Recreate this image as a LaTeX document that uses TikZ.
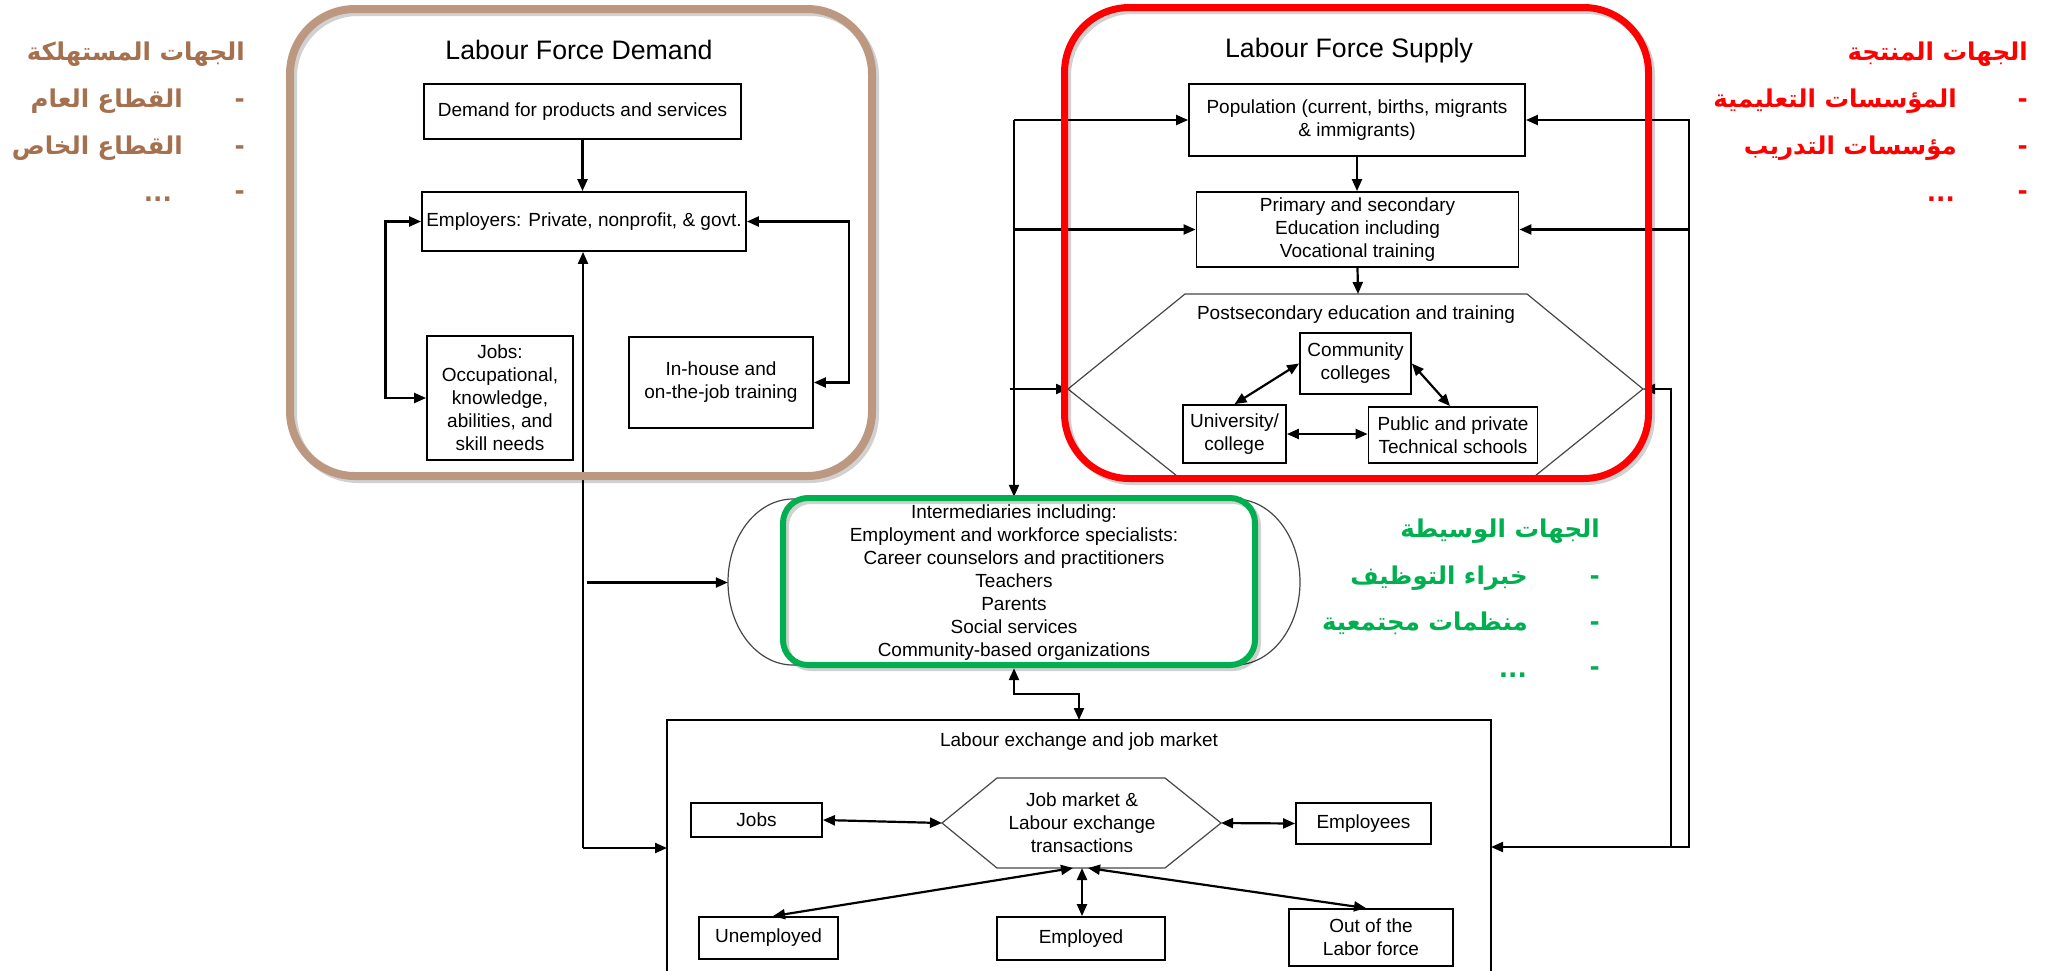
\documentclass[tikz,border=0pt]{standalone}
\usepackage{fontspec}
\setmainfont{Liberation Sans}
\newfontfamily\arabicfont[Script=Arabic]{DejaVu Sans}
\TeXXeTstate=1
\usetikzlibrary{arrows.meta,calc}
\definecolor{brownF}{RGB}{188,152,128}
\definecolor{brownT}{RGB}{165,112,78}
\definecolor{redF}{RGB}{255,0,0}
\definecolor{greenF}{RGB}{0,176,80}
\definecolor{thinC}{RGB}{70,70,70}
\begin{document}
\begin{tikzpicture}[x=1pt,y=-1pt,
  >={Triangle[length=12pt,width=10pt]},
  body/.style={font=\fontsize{19}{23}\selectfont},
  bx/.style={draw, line width=1.8pt, inner sep=0pt, align=center, body},
  sz/.style 2 args={minimum width=#1pt, minimum height=#2pt},
  conn/.style={line width=2.2pt},
  thinline/.style={draw=thinC, line width=1.2pt},
  ttl/.style={font=\fontsize{26.7}{30}\selectfont},
  ar/.style={font=\fontsize{24.5}{30}\selectfont\arabicfont\bfseries, inner sep=0pt, anchor=base east},
  shadowline/.style={draw=black, opacity=0.18},
]
\useasboundingbox (0,0) rectangle (2049,970);

% ---------- Demand side ----------
\node[ttl] (tDemand) at (579,50) {Labour Force Demand};
\node[bx, sz={317}{55}] (demand) at (582.5,111.5) {Demand for products and services};
\node[bx, sz={324}{59}] (employers) at (584,221.5) {Employers: Private, nonprofit, \& govt.};
\node[bx, sz={146}{124}] (jobsD) at (500,398) {Jobs:\\Occupational,\\knowledge,\\abilities, and\\skill needs};
\node[bx, sz={184}{91}] (inhouse) at (721,382.5) {In-house and\\on-the-job training};

\draw[conn,->] (demand.south) -- (demand.south |- employers.north);
\draw[conn,<->] (employers.west) -- ++(-35.6,0) |- (jobsD.west);
\draw[conn,<->] (employers.east) -- ++(102,0) |- (inhouse.east);

% ---------- Supply side ----------
\node[ttl] (tSupply) at (1349,51) {Labour Force Supply};
\node[bx, sz={336}{72}] (population) at (1357,120) {Population (current, births, migrants\\\& immigrants)};
\node[bx, sz={322}{75}] (primary) at (1357.5,229.5) {Primary and secondary\\Education including\\Vocational training};
\draw[thinline] (1068,389) -- (1185,294) -- (1527,294) -- (1643,389) -- (1530,480) -- (1182,480) -- cycle;
\coordinate (postW) at (1068,389);
\coordinate (postE) at (1643,389);
\coordinate (postN) at (1358,294);
\node[body] (postT) at (1356,315) {Postsecondary education and training};
\node[bx, sz={111}{61}] (community) at (1355.5,363.5) {Community\\colleges};
\node[bx, sz={103}{58}] (university) at (1234.5,434) {University/\\college};
\node[bx, sz={169}{56}] (public) at (1453,435) {Public and private\\Technical schools};

\draw[conn,->] (population.south) -- (population.south |- primary.north);
\draw[conn,->] (primary.south) -- (postN);
\draw[conn,<->] (community.west) -- (university.north);
\draw[conn,<->] (community.east) -- ($(public.north)+(-3,0)$);
\draw[conn,<->] (university.east) -- (university.east -| public.west);

% ---------- Intermediaries ----------
\node[body, align=center, inner sep=0pt, minimum width=572pt, minimum height=171pt] (inter) at (1014,582.5)
  {Intermediaries including:\\Employment and workforce specialists:\\Career counselors and practitioners\\Teachers\\Parents\\Social services\\Community-based organizations};
\draw[thinline] (793,499) -- (1235,499) arc[start angle=90, end angle=-90, x radius=65pt, y radius=83pt]
  -- (793,665) arc[start angle=270, end angle=90, x radius=65pt, y radius=83pt] -- cycle;

% ---------- Labour exchange ----------
\draw[line width=1.8pt] (667,975) -- (667,720) -- (1491,720) -- (1491,975);
\coordinate (labN) at (1079,720);
\coordinate (labW) at (667,848);
\coordinate (labE) at (1491,847);
\node[body] (labT) at (1079,742) {Labour exchange and job market};
\draw[thinline] (942,823) -- (997,778) -- (1165,778) -- (1221,823) -- (1165,868) -- (997,868) -- cycle;
\coordinate (jmW) at (942,823);
\coordinate (jmE) at (1221,823);
\coordinate (jmS) at (1082,868);
\node[body, align=center] (jm) at (1082,823) {Job market \&\\Labour exchange\\transactions};
\node[bx, sz={131}{34}] (jobs2) at (756.5,820) {Jobs};
\node[bx, sz={135}{41}] (employees) at (1363.5,823.5) {Employees};
\node[bx, sz={139}{42}] (unemployed) at (768.5,938) {Unemployed};
\node[bx, sz={168}{43}] (employed) at (1081,938.5) {Employed};
\node[bx, sz={164}{57}] (outlabor) at (1371,937.5) {Out of the\\Labor force};

\draw[conn,<->] (jobs2.east) -- (jmW);
\draw[conn,<->] (jmE) -- (employees.west);
\draw[conn,<->] ($(jmS)+(-9,0)$) -- ($(unemployed.north)+(4.5,0)$);
\draw[conn,<->] (jmS) -- (jmS |- employed.north);
\draw[conn,<->] ($(jmS)+(6,0)$) -- ($(outlabor.north)+(-5,0)$);

% ---------- buses ----------
\coordinate (busL) at (583,848);
\draw[conn,->] (busL) -- (busL |- employers.south);
\draw[conn,->] (busL) -- (labW);
\draw[conn,->] ($(busL |- inter.west)+(4,0)$) -- (inter.west);

\coordinate (busR) at (1014,120);
\draw[conn,->] (busR) -- (population.west);
\draw[conn,->] (busR) -- (busR |- inter.north);
\draw[conn,->] (busR |- primary.west) -- (primary.west);
\draw[conn,->] (1010,389) -- (postW);

\coordinate (rb) at (1689,0);
\draw[conn,<->] (population.east) -- (population.east -| rb) |- (labE);
\draw[conn,->] (primary.east -| rb) -- (primary.east);
\draw[conn,->] (1671,847) -- (1671,389) -- (postE);

\draw[conn,<->] (inter.south) -- (1014,694) -| (labN);

% ---------- frames ----------
\draw[shadowline, line width=8pt, rounded corners=65pt] (293,12) rectangle (875,479);
\draw[brownF, line width=8pt, rounded corners=65pt] (290,9) rectangle (872,476);
\draw[shadowline, line width=7pt, rounded corners=65pt] (1067.5,10.5) rectangle (1651.5,481.5);
\draw[redF, line width=7pt, rounded corners=65pt] (1064.5,7.5) rectangle (1648.5,478.5);
\draw[shadowline, line width=6pt, rounded corners=25pt] (786,501) rectangle (1258,668);
\draw[greenF, line width=6pt, rounded corners=25pt] (783,498) rectangle (1255,665);

% ---------- Arabic labels ----------
\node[ar, text=brownT] (cT) at (245,60) {\beginR الجهات المستهلكة\endR};
\node[ar, text=brownT] (cD1) at (245,107) {-};
\node[ar, text=brownT] (c1) at (183,107) {\beginR القطاع العام\endR};
\node[ar, text=brownT] (cD2) at (245,154) {-};
\node[ar, text=brownT] (c2) at (183,154) {\beginR القطاع الخاص\endR};
\node[ar, text=brownT] (cD3) at (245,199) {-};
\node[ar, text=brownT] (c3) at (172,201) {...};

\node[ar, text=redF] (pT) at (2028,60) {\beginR الجهات المنتجة\endR};
\node[ar, text=redF] (pD1) at (2028,107) {-};
\node[ar, text=redF] (p1) at (1957,107) {\beginR المؤسسات التعليمية\endR};
\node[ar, text=redF] (pD2) at (2028,154) {-};
\node[ar, text=redF] (p2) at (1957,154) {\beginR مؤسسات التدريب\endR};
\node[ar, text=redF] (pD3) at (2028,199) {-};
\node[ar, text=redF] (p3) at (1955,201) {...};

\node[ar, text=greenF] (iT) at (1600,537) {\beginR الجهات الوسيطة\endR};
\node[ar, text=greenF] (iD1) at (1600,584) {-};
\node[ar, text=greenF] (i1) at (1528,584) {\beginR خبراء التوظيف\endR};
\node[ar, text=greenF] (iD2) at (1600,630) {-};
\node[ar, text=greenF] (i2) at (1528,630) {\beginR منظمات مجتمعية\endR};
\node[ar, text=greenF] (iD3) at (1600,675) {-};
\node[ar, text=greenF] (i3) at (1527,677) {...};
\end{tikzpicture}
\end{document}
